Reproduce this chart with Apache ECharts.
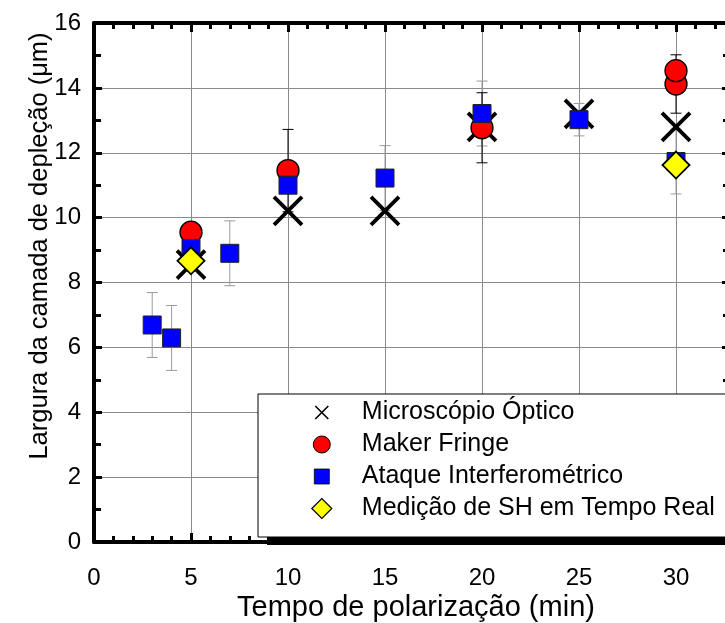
<!DOCTYPE html>
<html>
<head>
<meta charset="utf-8">
<script src="https://cdn.jsdelivr.net/npm/echarts@6/dist/echarts.min.js"></script>
<style>html,body{margin:0;padding:0;background:#fff;}#c{width:725px;height:623px;}</style>
</head>
<body>
<div id="c"></div>
<script>
// ---- data ----
const xTickLabels = [0, 5, 10, 15, 20, 25, 30];
const yTickLabels = [0, 2, 4, 6, 8, 10, 12, 14, 16];

const seriesNames = ['Microscópio Óptico', 'Maker Fringe', 'Ataque Interferométrico', 'Medição de SH em Tempo Real'];

const microX = [5, 10, 15, 20, 25, 30];
const microY = [8.55, 10.21, 10.21, 12.8, 13.2, 12.8];

const makerX = [5, 10, 20, 30, 30];
const makerY = [9.55, 11.45, 12.77, 14.12, 14.53];
const makerErr = [0, 1.27, 1.08, 0.9, 0];

const ataqueX = [3, 4, 5, 7, 10, 15, 20, 25, 30];
const ataqueY = [6.69, 6.29, 9.05, 8.9, 11.0, 11.22, 13.21, 13.02, 11.73];
const ataqueErr = [1.0, 1.0, 0, 1.0, 0, 1.0, 1.0, 0.5, 1.0];

const shX = [5, 30];
const shY = [8.67, 11.62];

const xTitle = 'Tempo de polarização (min)';
const yTitle = 'Largura da camada de depleção (μm)';

// ---- chart ----
const FONT = 'Liberation Sans, Arial, sans-serif';
const pairs = (xs, ys) => xs.map((x, i) => [x, ys[i]]);
const triples = (xs, ys, es) => xs.map((x, i) => [x, ys[i], es[i]]);

function errRender(color) {
  return function (params, api) {
    const x = api.value(0), y = api.value(1), e = api.value(2);
    if (!e) return null;
    const top = api.coord([x, y + e]);
    const bot = api.coord([x, y - e]);
    const hw = 5.5;
    const st = { stroke: color, lineWidth: 1 };
    return {
      type: 'group',
      children: [
        { type: 'line', shape: { x1: top[0], y1: top[1], x2: bot[0], y2: bot[1] }, style: st },
        { type: 'line', shape: { x1: top[0] - hw, y1: top[1], x2: top[0] + hw, y2: top[1] }, style: st },
        { type: 'line', shape: { x1: bot[0] - hw, y1: bot[1], x2: bot[0] + hw, y2: bot[1] }, style: st }
      ]
    };
  };
}

const axisLineStyle = { color: '#000', width: 4 };
const tickStyle = { color: '#000', width: 3 };

const chart = echarts.init(document.getElementById('c'), null, { renderer: 'canvas' });
chart.setOption({
  animation: false,
  backgroundColor: '#fff',
  grid: { left: 94, top: 23, width: 679, height: 519, outerBoundsMode: 'none', containLabel: false },
  xAxis: [
    {
      type: 'value', min: 0, max: 35, interval: 5, position: 'bottom',
      axisLine: { onZero: false, lineStyle: axisLineStyle },
      axisTick: { inside: true, length: 9, lineStyle: tickStyle },
      minorTick: { show: true, splitNumber: 5, length: 6, lineStyle: tickStyle },
      axisLabel: {
        margin: 24, fontSize: 24, color: '#000', fontFamily: FONT,
        formatter: v => (xTickLabels.indexOf(v) >= 0 ? String(v) : '')
      },
      splitLine: { show: true, lineStyle: { color: '#8a8a8a', width: 1 } }
    },
    {
      type: 'value', min: 0, max: 35, interval: 5, position: 'top',
      axisLine: { onZero: false, lineStyle: axisLineStyle },
      axisTick: { inside: true, length: 9, lineStyle: tickStyle },
      minorTick: { show: true, splitNumber: 5, length: 6, lineStyle: tickStyle },
      axisLabel: { show: false },
      splitLine: { show: false }
    }
  ],
  yAxis: [
    {
      type: 'value', min: 0, max: 16, interval: 2, position: 'left',
      axisLine: { onZero: false, lineStyle: axisLineStyle },
      axisTick: { inside: true, length: 8, lineStyle: tickStyle },
      minorTick: { show: true, splitNumber: 2, length: 7, lineStyle: tickStyle },
      axisLabel: {
        margin: 13, fontSize: 24, color: '#000', fontFamily: FONT,
        formatter: v => (yTickLabels.indexOf(v) >= 0 ? String(v) : '')
      },
      splitLine: { show: true, lineStyle: { color: '#8a8a8a', width: 1 } }
    },
    {
      type: 'value', min: 0, max: 16, interval: 2, position: 'right', offset: -43,
      axisLine: { onZero: false, lineStyle: axisLineStyle },
      axisTick: { inside: true, length: 8, lineStyle: tickStyle },
      minorTick: { show: true, splitNumber: 2, length: 7, lineStyle: tickStyle },
      axisLabel: { show: false },
      splitLine: { show: false }
    }
  ],
  legend: {
    orient: 'vertical', left: 258, top: 394, z: 6,
    padding: [6, 30, 16, 53],
    itemWidth: 70, itemHeight: 20, itemGap: 7,
    selectedMode: false,
    backgroundColor: '#fff', borderColor: '#000', borderWidth: 1,
    textStyle: { fontSize: 25, color: '#000', fontFamily: FONT, lineHeight: 24 },
    data: [
      { name: seriesNames[0], icon: 'path://M-3.5,-3.5M0,0L13,13M13,0L0,13M16.5,16.5',
        itemStyle: { color: 'transparent', borderColor: '#000', borderWidth: 1.6 } },
      { name: seriesNames[1], icon: 'path://M-1.5,-1.5M18.5,18.5M17,8.5A8.5,8.5,0,1,1,0,8.5A8.5,8.5,0,1,1,17,8.5Z',
        itemStyle: { color: '#ff0000', borderColor: '#000', borderWidth: 1 } },
      { name: seriesNames[2], icon: 'path://M-2.5,-2.5M17.5,17.5M0,0L15,0L15,15L0,15Z',
        itemStyle: { color: '#0000ff', borderColor: '#000', borderWidth: 0.8 } },
      { name: seriesNames[3], icon: 'path://M0,10L10,0L20,10L10,20Z',
        itemStyle: { color: '#ffff00', borderColor: '#000', borderWidth: 1.2 } }
    ]
  },
  graphic: [
    { type: 'rect', z: 5, silent: true,
      shape: { x: 267, y: 406, width: 520, height: 139 },
      style: { fill: '#000' } },
    { type: 'text', x: 416, y: 608, z: 10,
      style: { text: xTitle, fontSize: 29, fontFamily: FONT, fill: '#000', align: 'center', verticalAlign: 'middle' } },
    { type: 'text', x: 40, y: 246, rotation: Math.PI / 2, z: 10,
      style: { text: yTitle, fontSize: 25.5, fontFamily: FONT, fill: '#000', align: 'center', verticalAlign: 'middle' } }
  ],
  series: [
    { name: 'errAtaque', type: 'custom', z: 1, silent: true,
      data: triples(ataqueX, ataqueY, ataqueErr), renderItem: errRender('#9a9a9a') },
    { name: 'errMaker', type: 'custom', z: 1, silent: true,
      data: triples(makerX, makerY, makerErr), renderItem: errRender('#000') },
    { name: seriesNames[0], type: 'scatter', z: 2,
      symbol: 'path://M0,0L10,10M10,0L0,10', symbolSize: 28,
      itemStyle: { color: 'transparent', borderColor: '#000', borderWidth: 3.8, opacity: 1 },
      data: pairs(microX, microY) },
    { name: seriesNames[1], type: 'scatter', z: 3,
      symbol: 'circle', symbolSize: 22,
      itemStyle: { color: '#ff0000', borderColor: '#000', borderWidth: 1.3, opacity: 1 },
      data: pairs(makerX, makerY) },
    { name: seriesNames[2], type: 'scatter', z: 4,
      symbol: 'rect', symbolSize: 18,
      itemStyle: { color: '#0000ff', borderColor: '#222', borderWidth: 1, opacity: 1 },
      data: pairs(ataqueX, ataqueY) },
    { name: seriesNames[3], type: 'scatter', z: 4.5,
      symbol: 'diamond', symbolSize: 27,
      itemStyle: { color: '#ffff00', borderColor: '#000', borderWidth: 1.8, opacity: 1 },
      data: pairs(shX, shY) }
  ]
});
</script>
</body>
</html>
